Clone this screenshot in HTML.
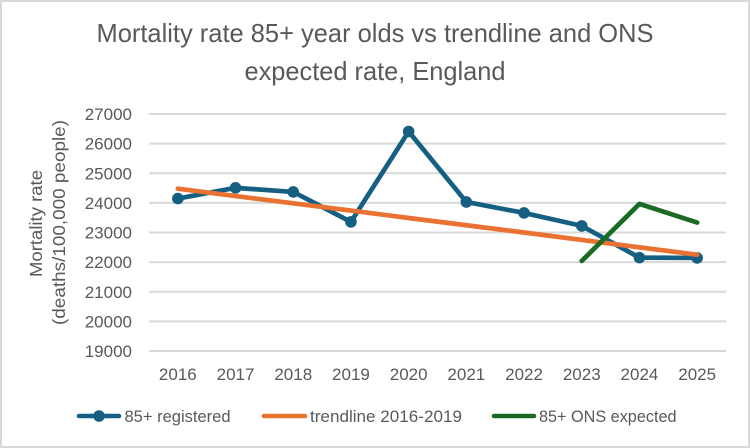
<!DOCTYPE html>
<html>
<head>
<meta charset="utf-8">
<style>
html,body{margin:0;padding:0;background:#fff;}
svg{display:block;font-family:"Liberation Sans",sans-serif;}
</style>
</head>
<body>
<svg id="chart" width="750" height="448" viewBox="0 0 750 448" xmlns="http://www.w3.org/2000/svg">
  <rect x="1" y="1" width="748" height="446" fill="#fff" stroke="#d9d9d9" stroke-width="2"/>
  <text x="375" y="42" text-anchor="middle" font-size="26" fill="#595959" textLength="557" lengthAdjust="spacingAndGlyphs">Mortality rate 85+ year olds vs trendline and ONS</text>
  <text x="375" y="80" text-anchor="middle" font-size="26" fill="#595959" textLength="261" lengthAdjust="spacingAndGlyphs">expected rate, England</text>
  <g fill="#595959" font-size="17.5">
    <text transform="translate(42,223.5) rotate(-90)" text-anchor="middle" textLength="107" lengthAdjust="spacingAndGlyphs">Mortality rate</text>
    <text transform="translate(65,222.5) rotate(-90)" text-anchor="middle" textLength="205" lengthAdjust="spacingAndGlyphs">(deaths/100,000 people)</text>
  </g>
  <g id="grid"></g>
  <g id="yticks"></g>
  <g id="xticks"></g>
  <g id="series"></g>
  <g font-size="17" fill="#595959">
    <g>
      <line x1="79" y1="416" x2="119" y2="416" stroke="#156082" stroke-width="4.5" stroke-linecap="round"/>
      <circle cx="99" cy="416" r="5.8" fill="#156082"/>
      <text x="124.5" y="422" textLength="106" lengthAdjust="spacingAndGlyphs">85+ registered</text>
    </g>
    <g>
      <line x1="264" y1="416" x2="305" y2="416" stroke="#e97132" stroke-width="4.5" stroke-linecap="round"/>
      <text x="310" y="422" textLength="152" lengthAdjust="spacingAndGlyphs">trendline 2016-2019</text>
    </g>
    <g>
      <line x1="494" y1="416" x2="534" y2="416" stroke="#196b24" stroke-width="4.5" stroke-linecap="round"/>
      <text x="539" y="422" textLength="137.5" lengthAdjust="spacingAndGlyphs">85+ ONS expected</text>
    </g>
  </g>
</svg>
<script>
const categories = ['2016','2017','2018','2019','2020','2021','2022','2023','2024','2025'];
const yTicks = [19000,20000,21000,22000,23000,24000,25000,26000,27000];
const registered = [24145,24507,24370,23358,26409,24030,23660,23223,22152,22142];
const trendline = [24480,24230,23985,23740,23490,23245,23000,22750,22500,22250];
const onsExpected = [null,null,null,null,null,null,null,22040,23966,23335];

const NS = 'http://www.w3.org/2000/svg';
const plotLeft = 149, plotRight = 726, plotTop = 114, plotBottom = 351;
const yMin = 19000, yMax = 27000;
function xScale(i){ return plotLeft + (i + 0.5) * (plotRight - plotLeft) / categories.length; }
function yScale(v){ return plotBottom - (v - yMin) * (plotBottom - plotTop) / (yMax - yMin); }
function make(tag, attrs, parent){
  const el = document.createElementNS(NS, tag);
  for (const k in attrs) el.setAttribute(k, attrs[k]);
  parent.appendChild(el);
  return el;
}
const gridG = document.getElementById('grid');
const yG = document.getElementById('yticks');
const xG = document.getElementById('xticks');
const seriesG = document.getElementById('series');

yTicks.forEach(function(t){
  const line = make('line', {x1:plotLeft, x2:plotRight, y1:yScale(t), y2:yScale(t), stroke:'#d9d9d9', 'stroke-width':2}, gridG);
  
  
  const label = make('text', {x:132, y:yScale(t)+6, 'text-anchor':'end', 'font-size':17, fill:'#595959'}, yG);
  label.textContent = String(t);
  
  
});
categories.forEach(function(c, i){
  const label = make('text', {x:xScale(i), y:380, 'text-anchor':'middle', 'font-size':17, fill:'#595959'}, xG);
  label.textContent = c;
  
  
});
function pointsOf(values){
  const pts = [];
  values.forEach(function(v, i){ if (v !== null) pts.push(xScale(i) + ',' + yScale(v)); });
  return pts.join(' ');
}
const regLine = make('polyline', {points:pointsOf(registered), fill:'none', stroke:'#156082', 'stroke-width':4.7, 'stroke-linecap':'round', 'stroke-linejoin':'round'}, seriesG);


registered.forEach(function(v, i){
  const dot = make('circle', {cx:xScale(i), cy:yScale(v), r:5.8, fill:'#156082'}, seriesG);
  
  
});
const trendPath = make('polyline', {points:pointsOf(trendline), fill:'none', stroke:'#e97132', 'stroke-width':4.7, 'stroke-linecap':'round', 'stroke-linejoin':'round'}, seriesG);


const onsPath = make('polyline', {points:pointsOf(onsExpected), fill:'none', stroke:'#196b24', 'stroke-width':4.7, 'stroke-linecap':'round', 'stroke-linejoin':'round'}, seriesG);


</script>
</body>
</html>
